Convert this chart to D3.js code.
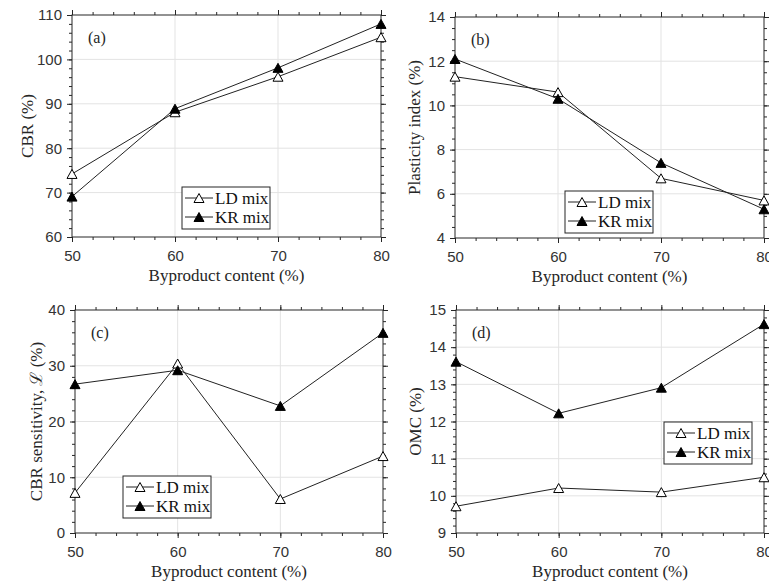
<!DOCTYPE html>
<html lang="en">
<head>
    <meta charset="UTF-8">
    <title>Byproduct content panels</title>
    <script src="https://d3js.org/d3.v7.min.js"></script>
    <style>
        body { margin: 0; background: #fff; }
    </style>
</head>
<body>
<div id="chart"></div>
<script>
// x values shared by all panels
const content = [50, 60, 70, 80];
const xTicks = [50, 60, 70, 80];
const seriesNames = ["LD mix", "KR mix"];

// (a) CBR
const cbrLD = [74.2, 88.1, 96.1, 105.0];
const cbrKR = [69.1, 88.9, 98.1, 108.0];
// (b) plasticity index
const piLD = [11.3, 10.6, 6.7, 5.7];
const piKR = [12.1, 10.3, 7.4, 5.3];
// (c) CBR sensitivity
const sensLD = [7.2, 30.4, 6.1, 13.8];
const sensKR = [26.7, 29.2, 22.8, 35.9];
// (d) OMC
const omcLD = [9.72, 10.21, 10.1, 10.5];
const omcKR = [13.61, 12.22, 12.91, 14.62];

const SANS = "'Liberation Sans', Arial, sans-serif";
const SERIF = "'Liberation Serif', 'Times New Roman', serif";
const INK = "#262626";

const panels = [
    { tag: "(a)", ylabel: "CBR (%)", ld: cbrLD, kr: cbrKR, ydom: [60, 110], ystep: 10, yminor: 2,
      box: [72, 15, 309, 222], labOff: 45, legend: [110, 172] },
    { tag: "(b)", ylabel: "Plasticity index (%)", ld: piLD, kr: piKR, ydom: [4, 14], ystep: 2, yminor: 0.5,
      box: [455, 17, 309, 221], labOff: 41, legend: [110, 174] },
    { tag: "(c)", ylabel: "CBR sensitivity, \u2112 (%)", ld: sensLD, kr: sensKR, ydom: [0, 40], ystep: 10, yminor: 2,
      box: [75, 310, 308, 223], labOff: 39, legend: [48, 166] },
    { tag: "(d)", ylabel: "OMC (%)", ld: omcLD, kr: omcKR, ydom: [9, 15], ystep: 1, yminor: 0.2,
      box: [456, 310, 308, 223], labOff: 41, legend: [208, 112] }
];

const svg = d3.select("#chart").append("svg")
    .attr("width", 769)
    .attr("height", 583);

function tri(x, y, s) {
    const w = s / 2, h = s * 0.45;
    return `M${x},${y - h}L${x + w},${y + h}L${x - w},${y + h}Z`;
}

function range(a, b, step) {
    const out = [];
    for (let v = a; v <= b + 1e-9; v += step) out.push(+v.toFixed(4));
    return out;
}

function styleAxis(a) {
    a.select(".domain").remove();
    a.selectAll("line").attr("stroke", INK);
    a.selectAll("text")
        .style("font-family", SANS)
        .style("font-size", "15px")
        .attr("fill", "#333");
}

panels.forEach(p => {
    const [left, top, width, height] = p.box;
    const g = svg.append("g").attr("transform", `translate(${left},${top})`);

    const x = d3.scaleLinear().domain([50, 80]).range([0, width]);
    const y = d3.scaleLinear().domain(p.ydom).range([height, 0]);
    const yMajor = range(p.ydom[0], p.ydom[1], p.ystep);
    const yMinor = range(p.ydom[0], p.ydom[1], p.yminor);
    const xMinor = range(50, 80, 2);

    g.append("rect").attr("width", width).attr("height", height).attr("fill", "#fff");

    // grid
    g.append("g").selectAll("line").data(xTicks.slice(1, -1)).join("line")
        .attr("x1", d => x(d)).attr("x2", d => x(d))
        .attr("y1", 0).attr("y2", height)
        .attr("stroke", "#e3e3e3").attr("stroke-width", 1);
    g.append("g").selectAll("line").data(yMajor.slice(1, -1)).join("line")
        .attr("x1", 0).attr("x2", width)
        .attr("y1", d => y(d)).attr("y2", d => y(d))
        .attr("stroke", "#e3e3e3").attr("stroke-width", 1);

    // minor ticks on all sides
    const minorAxes = [
        [d3.axisBottom(x), `translate(0,${height})`, xMinor],
        [d3.axisTop(x), null, xMinor],
        [d3.axisLeft(y), null, yMinor],
        [d3.axisRight(y), `translate(${width},0)`, yMinor]
    ];
    minorAxes.forEach(([ax, tr, vals]) => {
        const a = g.append("g")
            .call(ax.tickValues(vals).tickSize(3).tickSizeOuter(0).tickFormat(""));
        if (tr) a.attr("transform", tr);
        styleAxis(a);
    });

    // major ticks
    const xAxis = g.append("g")
        .attr("transform", `translate(0,${height})`)
        .call(d3.axisBottom(x).tickValues(xTicks).tickSize(5).tickSizeOuter(0)
            .tickPadding(8).tickFormat(d3.format("~g")));
    const yAxis = g.append("g")
        .call(d3.axisLeft(y).tickValues(yMajor).tickSize(5).tickSizeOuter(0)
            .tickPadding(5).tickFormat(d3.format("~g")));
    const topAx = g.append("g")
        .call(d3.axisTop(x).tickValues(xTicks).tickSize(5).tickSizeOuter(0).tickFormat(""));
    const rightAx = g.append("g")
        .attr("transform", `translate(${width},0)`)
        .call(d3.axisRight(y).tickValues(yMajor).tickSize(5).tickSizeOuter(0).tickFormat(""));
    [xAxis, yAxis, topAx, rightAx].forEach(styleAxis);

    // box
    g.append("rect").attr("width", width).attr("height", height)
        .attr("fill", "none").attr("stroke", INK).attr("stroke-width", 1);

    // lines + markers
    const line = d3.line().x((d, i) => x(content[i])).y(d => y(d));
    [p.ld, p.kr].forEach((vals, k) => {
        g.append("path").datum(vals)
            .attr("d", line)
            .attr("fill", "none")
            .attr("stroke", "#222")
            .attr("stroke-width", 1);
        g.append("g").selectAll("path").data(vals).join("path")
            .attr("d", (d, i) => tri(x(content[i]), y(d), 10))
            .attr("fill", k === 0 ? "#fff" : "#000")
            .attr("stroke", "#000")
            .attr("stroke-width", 1);
    });

    // panel tag
    g.append("text")
        .attr("x", 16).attr("y", 28)
        .style("font-family", SERIF).style("font-size", "16px")
        .attr("fill", INK)
        .text(p.tag);

    // legend
    const lg = g.append("g").attr("transform", `translate(${p.legend[0]},${p.legend[1]})`);
    lg.append("rect").attr("width", 88).attr("height", 42)
        .attr("fill", "#fff").attr("stroke", INK).attr("stroke-width", 1);
    seriesNames.forEach((name, k) => {
        const cy = 11 + k * 19;
        lg.append("line").attr("x1", 3).attr("x2", 31).attr("y1", cy).attr("y2", cy)
            .attr("stroke", "#222").attr("stroke-width", 1);
        lg.append("path").attr("d", tri(17, cy, 10))
            .attr("fill", k === 0 ? "#fff" : "#000").attr("stroke", "#000");
        lg.append("text")
            .attr("x", 33).attr("y", cy + 5.5)
            .style("font-family", SERIF).style("font-size", "17px")
            .attr("fill", "#111")
            .text(name);
    });

    // axis labels
    g.append("text")
        .attr("x", width / 2).attr("y", height + 44)
        .attr("text-anchor", "middle")
        .style("font-family", SERIF).style("font-size", "17px")
        .attr("fill", INK)
        .text("Byproduct content (%)");
    g.append("text")
        .attr("transform", `translate(${-p.labOff},${height / 2}) rotate(-90)`)
        .attr("text-anchor", "middle")
        .attr("dy", "0.35em")
        .style("font-family", SERIF).style("font-size", "17px")
        .attr("fill", INK)
        .text(p.ylabel);
});
</script>
</body>
</html>
